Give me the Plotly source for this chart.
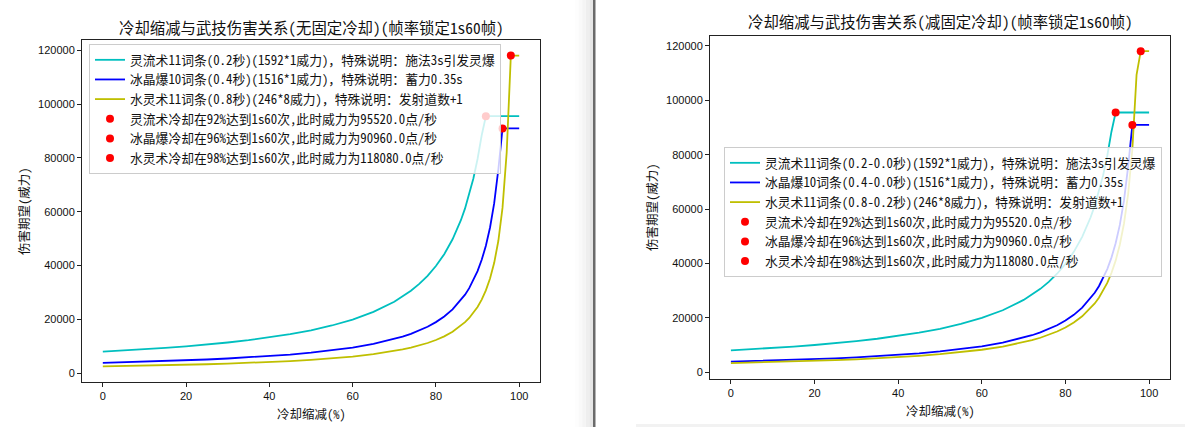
import plotly.graph_objects as go

W, H = 1185, 427

# ---------------- data ----------------
cdr_pct = [0, 5, 10, 15, 20, 25, 30, 35, 40, 45, 50, 55, 60, 65, 70, 72, 74, 76, 78, 80,
           82, 84, 86, 87, 88, 89, 90, 91, 92, 93, 94, 95, 96, 97, 98, 99, 100]

# 灵流术 (same in both panels, fixed cooldown 0.0)
lingliu = [7960, 8379, 8844, 9365, 9950, 10613, 11371, 12246, 13267, 14473, 15920, 17689,
           19900, 22743, 26533, 28429, 30615, 33167, 36182, 39800, 44222, 49750, 56857,
           61231, 66333, 72364, 79600, 88444, 95520, 95520, 95520, 95520, 95520, 95520,
           95520, 95520, 95520]
# 冰晶爆 (same in both panels, fixed cooldown 0.0)
bingjing = [3790, 3989, 4211, 4459, 4738, 5053, 5414, 5831, 6317, 6891, 7580, 8422,
            9475, 10829, 12633, 13536, 14577, 15792, 17227, 18950, 21056, 23688, 27071,
            29154, 31583, 34455, 37900, 42111, 47375, 54143, 63167, 75800, 90960, 90960,
            90960, 90960, 90960]
# 水灵术 left panel (no fixed cooldown)
shuiling_left = [2460, 2589, 2733, 2894, 3075, 3280, 3514, 3785, 4100, 4473, 4920, 5467,
                 6150, 7029, 8200, 8786, 9462, 10250, 11182, 12300, 13667, 15375, 17571,
                 18923, 20500, 22364, 24600, 27333, 30750, 35143, 41000, 49200, 61500,
                 82000, 118080, 118080, 118080]
# 水灵术 right panel (fixed cooldown 0.2 removed)
shuiling_right = [3280, 3453, 3644, 3859, 4100, 4373, 4686, 5046, 5467, 5964, 6560, 7289,
                  8200, 9371, 10933, 11714, 12615, 13667, 14909, 16400, 18222, 20500, 23429,
                  25231, 27333, 29818, 32800, 36444, 41000, 46857, 54667, 65600, 82000,
                  109333, 118080, 118080, 118080]

cap_x = [92, 96, 98]
cap_y = [95520, 90960, 118080]

left_line_names = [
    "灵流术11词条(0.2秒)(1592*1威力)，特殊说明：施法3s引发灵爆",
    "冰晶爆10词条(0.4秒)(1516*1威力)，特殊说明：蓄力0.35s",
    "水灵术11词条(0.8秒)(246*8威力)，特殊说明：发射道数+1",
]
right_line_names = [
    "灵流术11词条(0.2-0.0秒)(1592*1威力)，特殊说明：施法3s引发灵爆",
    "冰晶爆10词条(0.4-0.0秒)(1516*1威力)，特殊说明：蓄力0.35s",
    "水灵术11词条(0.8-0.2秒)(246*8威力)，特殊说明：发射道数+1",
]
point_names = [
    "灵流术冷却在92%达到1s60次,此时威力为95520.0点/秒",
    "冰晶爆冷却在96%达到1s60次,此时威力为90960.0点/秒",
    "水灵术冷却在98%达到1s60次,此时威力为118080.0点/秒",
]
titles = ["冷却缩减与武技伤害关系(无固定冷却)(帧率锁定1s60帧)",
          "冷却缩减与武技伤害关系(减固定冷却)(帧率锁定1s60帧)"]
x_title = "冷却缩减(%)"
y_title = "伤害期望(威力)"
x_ticks = [0, 20, 40, 60, 80, 100]
y_ticks = [0, 20000, 40000, 60000, 80000, 100000, 120000]

# ---------------- styling ----------------
colors = ["#00BFBF", "#0000FF", "#BFBF00"]
RED = "#FF0000"
TICKFONT = "Liberation Sans, Noto Sans CJK SC, sans-serif"
CJK = "Noto Sans Mono CJK SC, Noto Sans CJK SC, sans-serif"

def px_x(p):
    return p / W

def px_y(p):
    return 1 - p / H

fig = go.Figure()

panels = [
    dict(xa="x", ya="y", legend="legend",
         series=[lingliu, bingjing, shuiling_left], names=left_line_names),
    dict(xa="x2", ya="y2", legend="legend2",
         series=[lingliu, bingjing, shuiling_right], names=right_line_names),
]
for pnl in panels:
    for ys, nm, col in zip(pnl["series"], pnl["names"], colors):
        fig.add_trace(go.Scatter(x=cdr_pct, y=ys, mode="lines", name=nm,
                                 line=dict(color=col, width=1.8),
                                 xaxis=pnl["xa"], yaxis=pnl["ya"],
                                 legend=pnl["legend"], hoverinfo="skip"))
    for i, nm in enumerate(point_names):
        fig.add_trace(go.Scatter(x=[cap_x[i]], y=[cap_y[i]], mode="markers", name=nm,
                                 marker=dict(color=RED, size=8),
                                 xaxis=pnl["xa"], yaxis=pnl["ya"],
                                 legend=pnl["legend"], hoverinfo="skip"))

axis_common = dict(showline=True, mirror=True, linecolor="#222", linewidth=1,
                   ticks="outside", ticklen=4, tickwidth=1, tickcolor="#222",
                   showgrid=False, zeroline=False, automargin=False,
                   tickfont=dict(family=TICKFONT, size=11, color="#111"))

# pixel boxes: left axes 82..540 x, 40..382 y ; right axes 710..1170 x, 35.6..378.7 y
fig.update_layout(
    width=W, height=H,
    margin=dict(l=0, r=0, t=0, b=0, autoexpand=False),
    paper_bgcolor="white", plot_bgcolor="white",
    showlegend=True,
    xaxis=dict(domain=[px_x(82), px_x(540)], range=[-5, 105], tickvals=x_ticks,
               anchor="y", **axis_common),
    yaxis=dict(domain=[px_y(382), px_y(40)], range=[-3321, 123861], tickvals=y_ticks,
               tickformat="d", anchor="x", **axis_common),
    xaxis2=dict(domain=[px_x(710), px_x(1170)], range=[-5, 105], tickvals=x_ticks,
                anchor="y2", **axis_common),
    yaxis2=dict(domain=[px_y(378.7), px_y(35.6)], range=[-2460, 123820], tickvals=y_ticks,
                tickformat="d", anchor="x2", **axis_common),
    legend=dict(x=px_x(89), y=px_y(44), xanchor="left", yanchor="top",
                bgcolor="rgba(255,255,255,0.8)", bordercolor="#cccccc", borderwidth=1,
                font=dict(family=CJK, size=12.8, color="#111"), traceorder="normal"),
    legend2=dict(x=px_x(724), y=px_y(147), xanchor="left", yanchor="top",
                 bgcolor="rgba(255,255,255,0.8)", bordercolor="#cccccc", borderwidth=1,
                 font=dict(family=CJK, size=12.8, color="#111"), traceorder="normal"),
)

annotations = [
    dict(text=titles[0], x=px_x(311), y=px_y(27)),
    dict(text=titles[1], x=px_x(940), y=px_y(21)),
    dict(text=x_title, x=px_x(311), y=px_y(413)),
    dict(text=x_title, x=px_x(940), y=px_y(410)),
    dict(text=y_title, x=px_x(23), y=px_y(211), textangle=-90),
    dict(text=y_title, x=px_x(651), y=px_y(207), textangle=-90),
]
for a in annotations:
    size = 15.4 if a["text"] in titles else 12.5
    fig.add_annotation(xref="paper", yref="paper", showarrow=False,
                       xanchor="center", yanchor="middle",
                       font=dict(family=CJK, size=size, color="#111"), **a)

# screenshot separator between the two panels
shapes = []
greys = ["#fdfdfd", "#f9f9f9", "#f4f4f4", "#eeeeee", "#e6e6e6"]
for i, g in enumerate(greys):
    shapes.append(dict(type="rect", xref="paper", yref="paper",
                       x0=px_x(575 + i * 3.6), x1=px_x(575 + (i + 1) * 3.6),
                       y0=0, y1=1, fillcolor=g, line=dict(width=0), layer="below"))
shapes.append(dict(type="rect", xref="paper", yref="paper",
                   x0=px_x(593), x1=px_x(595.5), y0=0, y1=1,
                   fillcolor="#6a6a6a", line=dict(width=0), layer="below"))
shapes.append(dict(type="rect", xref="paper", yref="paper",
                   x0=px_x(636), x1=1, y0=0, y1=px_y(424),
                   fillcolor="#f2f2f2", line=dict(width=0), layer="below"))
fig.update_layout(shapes=shapes)

fig.write_html("out.html",
               config={"displayModeBar": False, "staticPlot": True},
               post_script="document.body.style.margin='0';document.body.style.overflow='hidden';")
